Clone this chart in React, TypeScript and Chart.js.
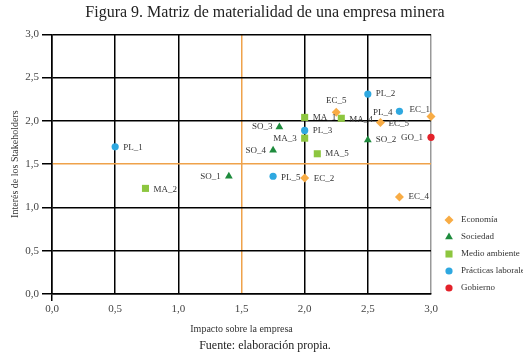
import React, { useEffect, useRef } from 'react';
import { Chart, registerables } from 'chart.js';
import { drawPoint } from 'chart.js/helpers';

Chart.register(...registerables);

// ---- data ----
const seriesNames = ['Economía', 'Sociedad', 'Medio ambiente', 'Prácticas laborales', 'Gobierno'];

const ecoLabels = ['EC_1', 'EC_5', 'EC_5', 'EC_2', 'EC_4'];
const ecoX = [3.0, 2.25, 2.6, 2.0, 2.75];
const ecoY = [2.05, 2.1, 1.98, 1.34, 1.12];

const socLabels = ['SO_1', 'SO_2', 'SO_3', 'SO_4'];
const socX = [1.4, 2.5, 1.8, 1.75];
const socY = [1.36, 1.78, 1.93, 1.66];

const maLabels = ['MA_1', 'MA_2', 'MA_3', 'MA_4', 'MA_5'];
const maX = [2.0, 0.74, 2.0, 2.29, 2.1];
const maY = [2.04, 1.22, 1.8, 2.03, 1.62];

const plLabels = ['PL_1', 'PL_2', 'PL_3', 'PL_4', 'PL_5'];
const plX = [0.5, 2.5, 2.0, 2.75, 1.75];
const plY = [1.7, 2.31, 1.89, 2.11, 1.36];

const goLabels = ['GO_1'];
const goX = [3.0];
const goY = [1.81];

const tickLabels = ['0,0', '0,5', '1,0', '1,5', '2,0', '2,5', '3,0'];

// ---- styles ----
const FONT = '"Liberation Serif", "Times New Roman", serif';
const ORANGE_LINE = '#EFA24A';
const colors = ['#F8AC45', '#1E8B3D', '#8DC63F', '#2EA8E0', '#E3222A'];
const pointStyles = ['rectRot', 'triangle', 'rect', 'circle', 'circle'];
const pointRadii = [4.5, 4.5, 5, 3.6, 3.6];

// label offsets [dx, dy, align] per point, same order as the data
const labelOffsets: [number, number, CanvasTextAlign][][] = [
  [[-1, -7, 'right'], [0, -12, 'center'], [8, 1, 'left'], [9, 1, 'left'], [9, 0, 'left']],
  [[-8, 0, 'right'], [8, 0, 'left'], [-7, 0, 'right'], [-7, 0, 'right']],
  [[8, 0, 'left'], [8, 1, 'left'], [-8, 0, 'right'], [8, 1, 'left'], [8, 0, 'left']],
  [[8, 1, 'left'], [8, 0, 'left'], [8, 0, 'left'], [-7, 1, 'right'], [8, 1, 'left']],
  [[-8, 0, 'right']],
];

const allLabels = [ecoLabels, socLabels, maLabels, plLabels, goLabels];
const allX = [ecoX, socX, maX, plX, goX];
const allY = [ecoY, socY, maY, plY, goY];

const pointLabelPlugin = {
  id: 'pointLabels',
  afterDatasetsDraw(chart: any) {
    const ctx = chart.ctx;
    ctx.save();
    ctx.font = `9px ${FONT}`;
    ctx.fillStyle = '#333';
    ctx.textBaseline = 'middle';
    chart.data.datasets.forEach((ds: any, di: number) => {
      const meta = chart.getDatasetMeta(di);
      meta.data.forEach((el: any, i: number) => {
        const [dx, dy, align] = labelOffsets[di][i];
        ctx.textAlign = align;
        ctx.fillText(allLabels[di][i], el.x + dx, el.y + dy);
      });
    });
    ctx.restore();
  },
};

const customLegendPlugin = {
  id: 'customLegend',
  afterDraw(chart: any) {
    const ctx = chart.ctx;
    const area = chart.chartArea;
    ctx.save();
    chart.data.datasets.forEach((ds: any, i: number) => {
      const x = area.right + 18;
      const y = area.bottom - 74 + i * 17;
      ctx.fillStyle = ds.backgroundColor;
      drawPoint(ctx, { pointStyle: ds.pointStyle, radius: ds.pointRadius, rotation: 0, borderWidth: 0 } as any, x, y);
      ctx.fillStyle = '#333';
      ctx.font = `9px ${FONT}`;
      ctx.textAlign = 'left';
      ctx.textBaseline = 'middle';
      ctx.fillText(ds.label, x + 12, y);
    });
    ctx.restore();
  },
};

export default function App() {
  const ref = useRef<HTMLCanvasElement>(null);

  useEffect(() => {
    document.body.style.margin = '0';
    const canvas = ref.current;
    if (!canvas) return;

    const datasets = seriesNames.map((name, si) => ({
      label: name,
      data: allX[si].map((x, i) => ({ x, y: allY[si][i] })),
      backgroundColor: colors[si],
      borderColor: colors[si],
      borderWidth: 0,
      pointStyle: pointStyles[si],
      pointRadius: pointRadii[si],
      pointHoverRadius: pointRadii[si],
      showLine: false,
      clip: false,
    }));

    const gridColor = (c: any) => {
      const v = c.tick ? c.tick.value : null;
      if (v === 1.5) return ORANGE_LINE;
      return '#000';
    };

    const chart = new Chart(canvas, {
      type: 'scatter',
      data: { datasets } as any,
      plugins: [pointLabelPlugin, customLegendPlugin],
      options: {
        animation: false,
        responsive: false,
        events: [],
        layout: { padding: { left: 7, right: 0, top: 0, bottom: 0 } },
        plugins: {
          legend: { display: false },
          tooltip: { enabled: false },
          title: {
            display: true,
            text: 'Figura 9. Matriz de materialidad de una empresa minera',
            font: { family: FONT, size: 16, weight: 'normal' },
            color: '#222',
            padding: { top: 3.5, bottom: 11.6 },
          },
          subtitle: {
            display: true,
            position: 'bottom',
            text: 'Fuente: elaboración propia.',
            font: { family: FONT, size: 12, weight: 'normal' },
            color: '#222',
            padding: { top: 0, bottom: 2 },
          },
        },
        scales: {
          x: {
            type: 'linear',
            min: 0,
            max: 3,
            ticks: {
              stepSize: 0.5,
              font: { family: FONT, size: 11 },
              color: '#444',
              padding: 2,
              maxRotation: 0,
              callback: (_v: any, i: number) => tickLabels[i],
            },
            grid: {
              color: (c: any) => {
                const v = c.tick ? c.tick.value : null;
                if (v === 1.5) return ORANGE_LINE;
                if (v === 3) return '#999';
                return '#000';
              },
              lineWidth: 1.5,
              drawTicks: true,
              tickLength: 7,
              tickColor: (c: any) => (c.tick && c.tick.value === 0 ? '#000' : 'rgba(0,0,0,0)'),
            },
            border: { display: true, color: '#000', width: 1.5 },
            title: {
              display: true,
              text: 'Impacto sobre la empresa',
              font: { family: FONT, size: 10 },
              color: '#333',
              padding: { top: 2, bottom: 3.6 },
            },
            afterFit: (s: any) => {
              s.height = 44.6;
            },
          },
          y: {
            type: 'linear',
            min: 0,
            max: 3,
            ticks: {
              stepSize: 0.5,
              font: { family: FONT, size: 11 },
              color: '#444',
              padding: 3,
              callback: (_v: any, i: number) => tickLabels[i],
            },
            grid: {
              color: gridColor,
              lineWidth: 1.5,
              drawTicks: true,
              tickLength: 10,
              tickColor: '#000',
            },
            border: { display: true, color: '#000', width: 1.5 },
            title: {
              display: true,
              text: 'Interés de los Stakeholders',
              font: { family: FONT, size: 10 },
              color: '#333',
              padding: { top: 2, bottom: 0 },
            },
            afterFit: (s: any) => {
              s.width = 45;
            },
          },
          yRight: {
            type: 'linear',
            position: 'right',
            min: 0,
            max: 3,
            display: true,
            ticks: { display: false },
            grid: { display: false, drawTicks: false },
            border: { display: false },
            afterFit: (s: any) => {
              s.width = 92;
            },
          },
        },
      } as any,
    });

    return () => chart.destroy();
  }, []);

  return (
    <div style={{ width: 523, height: 355 }}>
      <canvas ref={ref} width={523} height={355} style={{ display: 'block' }} />
    </div>
  );
}
